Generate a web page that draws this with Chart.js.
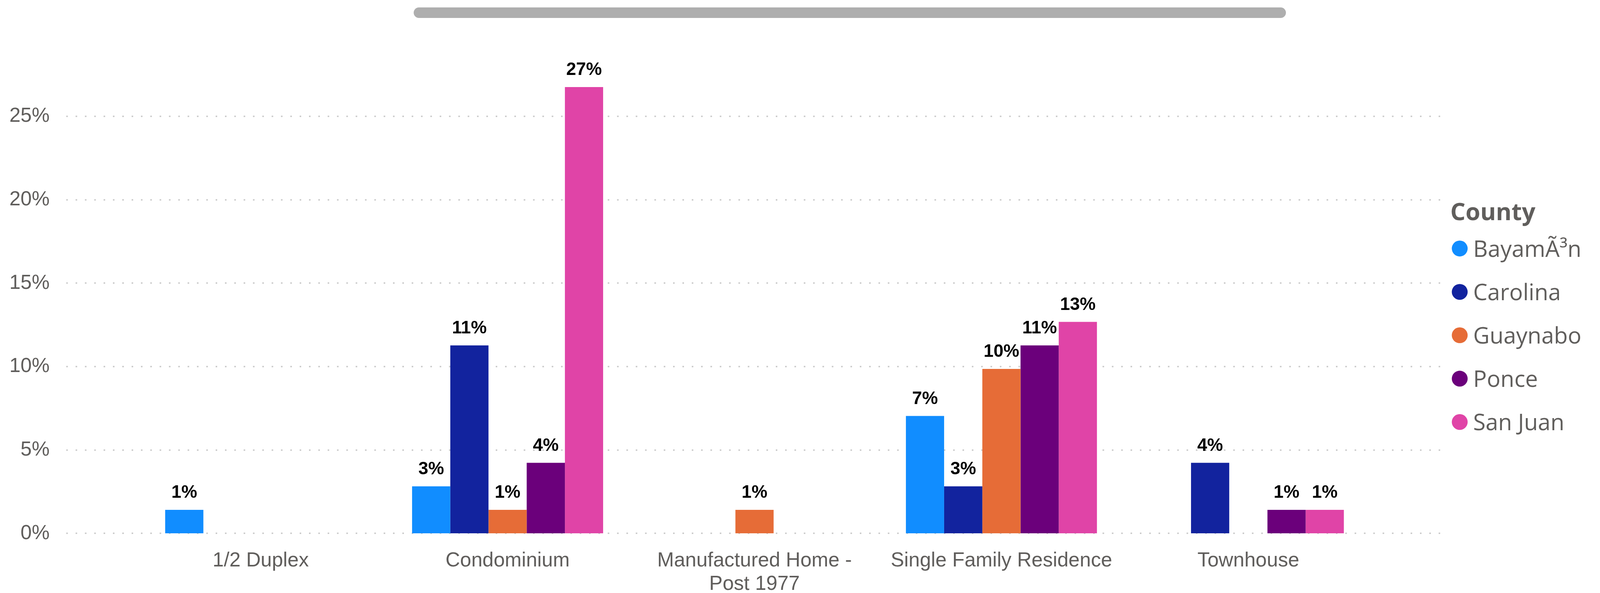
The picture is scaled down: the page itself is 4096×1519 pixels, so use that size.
<!DOCTYPE html>
<html><head><meta charset="utf-8">
<script src="https://cdn.jsdelivr.net/npm/chart.js@4.4.1/dist/chart.umd.min.js"></script>
<style>
html,body{margin:0;padding:0;background:#fff;overflow:hidden;}
#wrap{position:relative;width:4096px;height:1519px;}
#scroll{position:absolute;left:1058.5px;top:19.1px;width:2233px;height:27.2px;border-radius:13.6px;background:#AEAEAE;}
</style></head><body>
<div id="wrap"><canvas id="c"></canvas><div id="scroll"></div></div>
<script>
// ---- data ----
const categories = ['1/2 Duplex', 'Condominium', ['Manufactured Home -', 'Post 1977'], 'Single Family Residence', 'Townhouse'];
const counties = ['BayamÃ³n', 'Carolina', 'Guaynabo', 'Ponce', 'San Juan'];
const bayamon  = [1.41, 2.82, null, 7.04, null];
const carolina = [null, 11.27, null, 2.82, 4.23];
const guaynabo = [null, 1.41, 1.41, 9.86, null];
const ponce    = [null, 4.23, null, 11.27, 1.41];
const sanJuan  = [null, 26.76, null, 12.68, 1.41];
const yTicks = [0, 5, 10, 15, 20, 25];
const legendTitle = 'County';
const colors = ['#118DFF', '#12239E', '#E66C37', '#6B007B', '#E044A7'];
const series = [bayamon, carolina, guaynabo, ponce, sanJuan];

const AXIS_FONT = '"Liberation Sans", Arial, sans-serif';
const TEXT_COLOR = '#605E5C';

const gridPlugin = {
  id: 'dotgrid',
  beforeDatasetsDraw(chart) {
    const ctx = chart.ctx, ys = chart.scales.y;
    ctx.save();
    ctx.strokeStyle = '#C8C8C8';
    ctx.lineWidth = 3.5;
    ctx.setLineDash([4, 19.9]);
    ys.ticks.forEach(t => {
      const py = Math.round(ys.getPixelForValue(t.value));
      ctx.beginPath();
      ctx.moveTo(169.6, py);
      ctx.lineTo(3698, py);
      ctx.stroke();
    });
    ctx.restore();
  }
};

const labelPlugin = {
  id: 'barlabels',
  afterDatasetsDraw(chart) {
    const ctx = chart.ctx;
    ctx.save();
    ctx.font = 'bold 45.6px ' + AXIS_FONT;
    ctx.fillStyle = '#000000';
    ctx.textAlign = 'center';
    ctx.textBaseline = 'alphabetic';
    chart.data.datasets.forEach((ds, i) => {
      const meta = chart.getDatasetMeta(i);
      meta.data.forEach((el, j) => {
        const v = ds.data[j];
        if (v === null || v === undefined) return;
        ctx.fillText(Math.round(v) + '%', el.x, el.y - 30.75);
      });
    });
    ctx.restore();
  }
};

const legendPlugin = {
  id: 'sidelegend',
  afterDraw(chart) {
    const ctx = chart.ctx;
    ctx.save();
    ctx.fillStyle = TEXT_COLOR;
    ctx.textAlign = 'left';
    ctx.textBaseline = 'alphabetic';
    ctx.font = 'bold 61px "Open Sans", sans-serif';
    ctx.fillText(legendTitle, 3712.8, 563.8);
    ctx.font = '58px "Open Sans", sans-serif';
    chart.data.datasets.forEach((ds, i) => {
      const cy = 636.6 + i * 111.1;
      ctx.beginPath();
      ctx.fillStyle = ds.backgroundColor;
      ctx.arc(3736.9, cy, 20.3, 0, Math.PI * 2);
      ctx.fill();
      ctx.fillStyle = TEXT_COLOR;
      ctx.fillText(ds.label, 3771.3, cy + 21.4);
    });
    ctx.restore();
  }
};

new Chart(document.getElementById('c'), {
  type: 'bar',
  data: {
    labels: categories,
    datasets: counties.map((name, i) => ({
      label: name,
      data: series[i],
      backgroundColor: colors[i],
      borderWidth: 0,
      barPercentage: 1,
      categoryPercentage: 0.7737
    }))
  },
  options: {
    responsive: true,
    maintainAspectRatio: false,
    animation: false,
    layout: { padding: { top: 127.4, left: 0, right: 584.2, bottom: 0 } },
    plugins: { legend: { display: false }, tooltip: { enabled: false } },
    scales: {
      x: {
        grid: { display: false, drawTicks: false },
        border: { display: false },
        ticks: {
          font: { family: AXIS_FONT, size: 51.5, lineHeight: 1.17 },
          color: TEXT_COLOR, padding: 40.3,
          maxRotation: 0, minRotation: 0, autoSkip: false
        },
        afterFit(s) { s.height = 152.7; s.paddingLeft = 0; s.paddingRight = 0; }
      },
      y: {
        min: 0, max: 29,
        grid: { display: false, drawTicks: false },
        border: { display: false },
        afterBuildTicks(s) { s.ticks = yTicks.map(v => ({ value: v })); },
        ticks: {
          callback: v => v + '%',
          font: { family: AXIS_FONT, size: 51.5 },
          color: TEXT_COLOR, padding: 224.3
        },
        afterFit(s) { s.width = 351.3; s.paddingTop = 0; s.paddingBottom = 0; }
      }
    }
  },
  plugins: [gridPlugin, labelPlugin, legendPlugin]
});
</script>
</body></html>
